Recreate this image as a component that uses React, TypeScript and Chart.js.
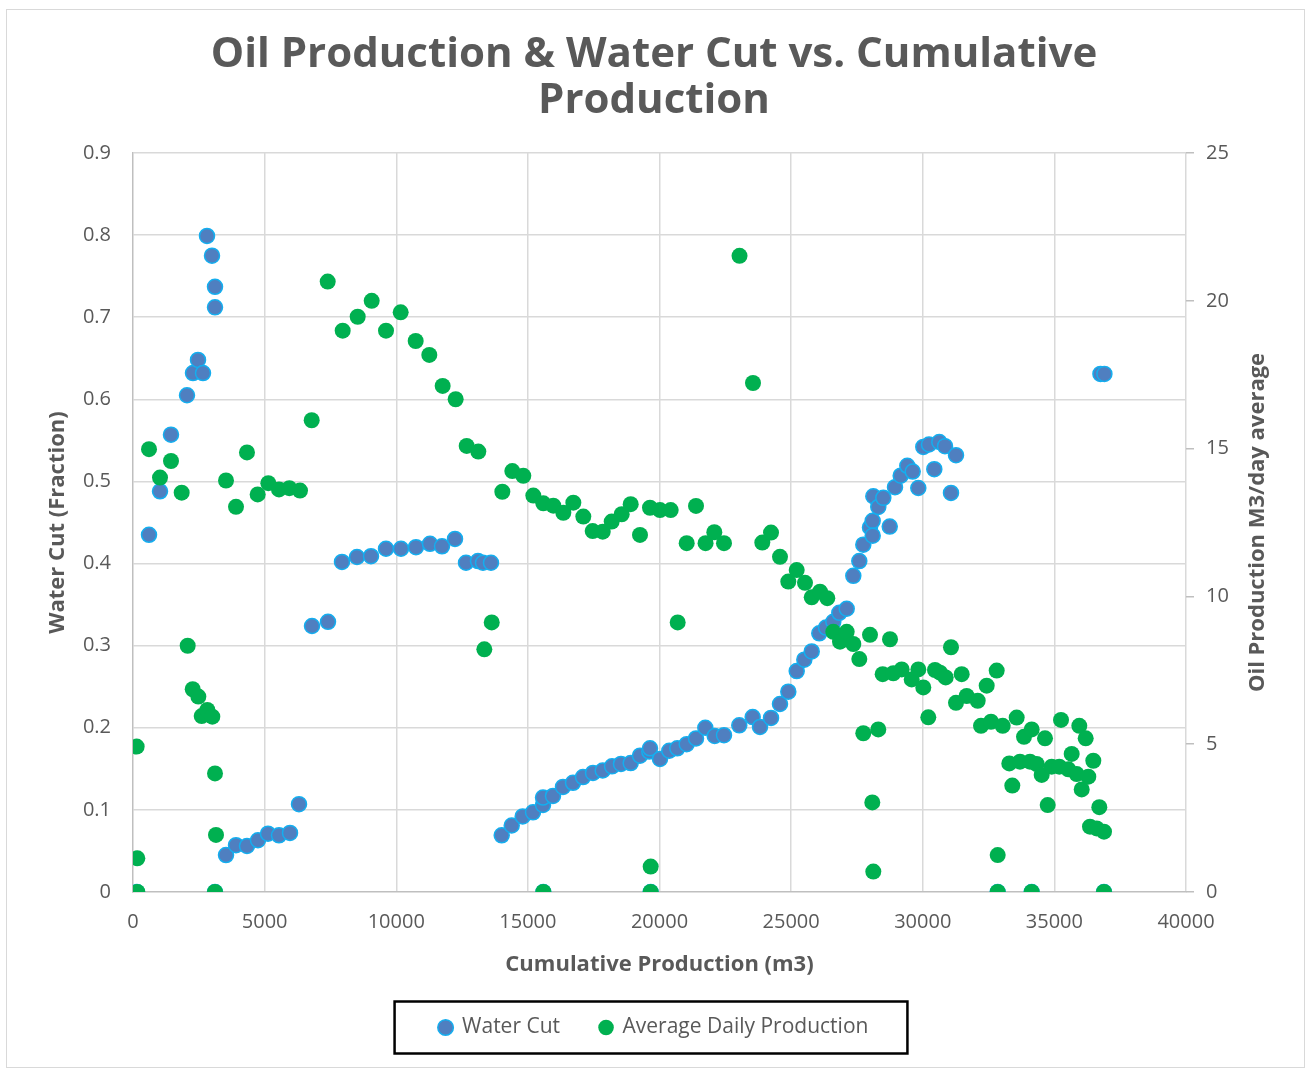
import React, { useEffect, useRef } from 'react';
import { Chart, registerables } from 'chart.js';

Chart.register(...registerables);

const FONT = '"Open Sans", "Liberation Sans", sans-serif';
const TEXT = '#595959';
const BLUE_FILL = '#4F7FC0';
const BLUE_EDGE = '#14AEEF';
const GREEN = '#00B050';

const titleLines = ['Oil Production & Water Cut vs. Cumulative', 'Production'];
const xTitle = 'Cumulative Production (m3)';
const yLeftTitle = 'Water Cut (Fraction)';
const yRightTitle = 'Oil Production M3/day average';
const seriesNames = ['Water Cut', 'Average Daily Production'];

// Water cut series (left axis)
const wcCumulative = [
  150, 608, 1026, 1443, 2051, 2279, 2469, 2659, 2811, 3001, 3115, 3115, 3115,
  3533, 3913, 4330, 4748, 5128, 5546, 5964, 6306, 6800, 7407, 7939, 8509, 9041,
  9611, 10180, 10750, 11282, 11738, 12232, 12650, 13105, 13295, 13599, 14006,
  14386, 14803, 15195, 15575, 15575, 15587, 15954, 16334, 16714, 17094, 17474,
  17843, 18196, 18537, 18906, 19259, 19612, 19639, 19665, 20019, 20372, 20676,
  21033, 21387, 21740, 22097, 22450, 23031, 23540, 23818, 24236, 24577, 24893,
  25212, 25501, 25782, 26070, 26325, 26602, 26830, 27111, 27362, 27590, 27742,
  27996, 28098, 28098, 28122, 28311, 28502, 28746, 28946, 29162, 29413, 29618,
  29831, 30021, 30237, 30439, 30628, 30845, 31073, 31263, 32847, 34138, 36750,
  36900, 36885,
];
const wcFraction = [
  0, 0.435, 0.488, 0.557, 0.605, 0.632, 0.648, 0.632, 0.799, 0.775, 0.737, 0.712, 0,
  0.045, 0.057, 0.056, 0.063, 0.071, 0.069, 0.072, 0.107, 0.324, 0.329, 0.402, 0.408, 0.409,
  0.418, 0.418, 0.42, 0.424, 0.421, 0.43, 0.401, 0.403, 0.401, 0.401, 0.069,
  0.081, 0.092, 0.097, 0.106, 0.115, 0, 0.117, 0.128, 0.133, 0.14, 0.145,
  0.148, 0.153, 0.156, 0.157, 0.166, 0.171, 0.175, 0, 0.162, 0.172, 0.175,
  0.18, 0.187, 0.2, 0.19, 0.191, 0.203, 0.213, 0.201, 0.212, 0.229, 0.244,
  0.269, 0.283, 0.293, 0.315, 0.322, 0.329, 0.34, 0.345, 0.385, 0.403, 0.423,
  0.444, 0.452, 0.434, 0.482, 0.469, 0.48, 0.445, 0.493, 0.507, 0.519, 0.512,
  0.492, 0.542, 0.545, 0.515, 0.548, 0.543, 0.486, 0.532, 0, 0, 0.631,
  0.631, 0,
];

// Average daily oil production series (right axis)
const oilCumulative = [
  139, 165, 165, 608, 1026, 1443, 1849, 2077, 2268, 2482, 2609, 2824, 3013, 3115,
  3153, 3115, 3533, 3913, 4330, 4736, 5141, 5546, 5939, 6344, 6788, 7396, 7965,
  8535, 9067, 9611, 10168, 10738, 11256, 11763, 12257, 12675, 13117, 13346, 13627,
  14030, 14409, 14827, 15207, 15587, 15587, 15967, 16347, 16727, 17106, 17462,
  17843, 18184, 18564, 18906, 19259, 19639, 19665, 19665, 20019, 20425, 20691,
  21033, 21387, 21750, 22082, 22450, 23040, 23552, 23905, 24236, 24577, 24893,
  25212, 25527, 25782, 26097, 26374, 26602, 26857, 27111, 27362, 27590, 27742,
  27996, 28084, 28122, 28311, 28478, 28756, 28881, 29200, 29580, 29832, 30021,
  30211, 30466, 30656, 30871, 31073, 31263, 31479, 31669, 32087, 32213, 32429,
  32593, 32809, 32847, 32847, 33036, 33288, 33402, 33568, 33694, 33846, 34074,
  34138, 34138, 34328, 34518, 34644, 34746, 34898, 35187, 35252, 35529, 35657,
  35848, 35947, 36038, 36190, 36289, 36353, 36479, 36608, 36707, 36885, 36885,
];
const oilRate = [
  4.92, 1.14, 0, 14.98, 14.02, 14.58, 13.51, 8.33, 6.86, 6.61, 5.95, 6.16, 5.93, 4.01,
  1.93, 0, 13.92, 13.03, 14.87, 13.45, 13.83, 13.62, 13.66, 13.58, 15.96, 20.65, 18.99,
  19.46, 20.0, 18.99, 19.61, 18.64, 18.17, 17.12, 16.67, 15.09, 14.9, 8.21, 9.12,
  13.54, 14.24, 14.08, 13.41, 13.15, 0, 13.07, 12.83, 13.17, 12.7, 12.21,
  12.19, 12.53, 12.78, 13.12, 12.08, 13.0, 0.86, 0, 12.92, 12.92, 9.12,
  11.8, 13.06, 11.8, 12.17, 11.8, 21.52, 17.22, 11.82, 12.16, 11.34, 10.5,
  10.89, 10.46, 9.97, 10.16, 9.94, 8.8, 8.47, 8.8, 8.39, 7.88, 5.37,
  8.7, 3.03, 0.69, 5.5, 7.37, 8.55, 7.4, 7.53, 7.19, 7.53, 6.92,
  5.91, 7.51, 7.42, 7.26, 8.28, 6.4, 7.37, 6.63, 6.47, 5.62, 6.98,
  5.76, 7.49, 1.25, 0, 5.62, 4.35, 3.6, 5.9, 4.41, 5.25, 4.41,
  5.5, 0, 4.33, 3.96, 5.2, 2.94, 4.24, 4.24, 5.82, 4.15, 4.67,
  3.99, 5.62, 3.47, 5.2, 3.9, 2.21, 4.44, 2.15, 2.87, 2.04, 0,
];

const xRange = { min: 0, max: 40000, step: 5000 };
const yLeftRange = { min: 0, max: 0.9, step: 0.1 };
const yRightRange = { min: 0, max: 25, step: 5 };

const chromePlugin = {
  id: 'chrome',
  beforeDraw(chart: any) {
    const ctx = chart.ctx;
    ctx.save();
    ctx.fillStyle = '#ffffff';
    ctx.fillRect(0, 0, chart.width, chart.height);
    ctx.strokeStyle = '#D9D9D9';
    ctx.lineWidth = 1;
    ctx.strokeRect(6.5, 9.5, 1298, 1058);
    ctx.restore();
  },
  afterDraw(chart: any) {
    const ctx = chart.ctx;
    const area = chart.chartArea;
    ctx.save();
    // right axis title (reads bottom to top)
    ctx.fillStyle = TEXT;
    ctx.font = `bold 22px ${FONT}`;
    ctx.textAlign = 'center';
    ctx.textBaseline = 'middle';
    ctx.translate(1258, (area.top + area.bottom) / 2);
    ctx.rotate(-Math.PI / 2);
    ctx.fillText(yRightTitle, 0, 0);
    ctx.restore();

    // legend frame
    const legend = chart.legend;
    const boxes = legend && legend.legendHitBoxes;
    if (boxes && boxes.length) {
      const first = boxes[0];
      const last = boxes[boxes.length - 1];
      const cy = first.top + first.height / 2;
      const left = first.left - 45;
      const right = last.left + last.width + 39;
      ctx.save();
      ctx.strokeStyle = '#000000';
      ctx.lineWidth = 2.5;
      ctx.strokeRect(left, cy - 26, right - left, 52);
      ctx.restore();
    }
  },
};

export default function App() {
  const ref = useRef<HTMLCanvasElement | null>(null);

  useEffect(() => {
    if (!ref.current) return;
    const wcPoints = wcCumulative.map((x, i) => ({ x, y: wcFraction[i] }));
    const oilPoints = oilCumulative.map((x, i) => ({ x, y: oilRate[i] }));

    const gridColor = (c: any) => (c.tick && c.tick.value === 0 ? 'rgba(0,0,0,0)' : '#D9D9D9');

    const chart = new Chart(ref.current, {
      type: 'scatter',
      data: {
        datasets: [
          {
            label: seriesNames[0],
            data: wcPoints,
            yAxisID: 'y',
            backgroundColor: BLUE_FILL,
            borderColor: BLUE_EDGE,
            borderWidth: 1.5,
            pointRadius: 7.5,
            pointHoverRadius: 7.5,
            order: 1,
          },
          {
            label: seriesNames[1],
            data: oilPoints,
            yAxisID: 'y1',
            backgroundColor: GREEN,
            borderColor: GREEN,
            borderWidth: 0,
            pointRadius: 8,
            pointHoverRadius: 8,
            order: 0,
          },
        ],
      },
      options: {
        responsive: false,
        animation: false,
        layout: { padding: { top: 0, left: 0, right: 0, bottom: 20 } },
        plugins: {
          tooltip: { enabled: false },
          title: {
            display: true,
            text: titleLines,
            color: TEXT,
            font: { family: FONT, size: 42, weight: 'bold', lineHeight: 46 / 42 },
            padding: { top: 32, bottom: 29 },
          },
          legend: {
            display: true,
            position: 'bottom',
            labels: {
              color: TEXT,
              font: { family: FONT, size: 21 },
              usePointStyle: true,
              pointStyle: 'circle',
              boxWidth: 12,
              boxHeight: 11,
              padding: 40,
              sort: (a: any, b: any) => a.datasetIndex - b.datasetIndex,
            },
          },
        },
        scales: {
          x: {
            type: 'linear',
            min: xRange.min,
            max: xRange.max,
            afterFit: (s: any) => { s.height = 85; },
            ticks: {
              stepSize: xRange.step,
              color: TEXT,
              font: { family: FONT, size: 20 },
              padding: 18,
              maxRotation: 0,
              callback: (v: any) => String(v),
            },
            grid: { color: gridColor, lineWidth: 1.5, drawTicks: false },
            border: { display: true, color: '#BFBFBF', width: 1.5 },
            title: {
              display: true,
              text: xTitle,
              color: TEXT,
              font: { family: FONT, size: 22, weight: 'bold', lineHeight: 1.1 },
              padding: { top: 0, bottom: 0 },
            },
          },
          y: {
            type: 'linear',
            position: 'left',
            min: yLeftRange.min,
            max: yLeftRange.max,
            afterFit: (s: any) => { s.width = 133; },
            ticks: {
              stepSize: yLeftRange.step,
              color: TEXT,
              font: { family: FONT, size: 20 },
              padding: 22,
              callback: (v: any) => (v === 0 ? '0' : Number(v).toFixed(1)),
            },
            grid: { color: gridColor, lineWidth: 1.5, drawTicks: false },
            border: { display: true, color: '#BFBFBF', width: 1.5 },
            title: {
              display: true,
              text: yLeftTitle,
              color: TEXT,
              font: { family: FONT, size: 22, weight: 'bold', lineHeight: 1.2 },
              padding: { top: 45, bottom: 0 },
            },
          },
          y1: {
            type: 'linear',
            position: 'right',
            min: yRightRange.min,
            max: yRightRange.max,
            afterFit: (s: any) => { s.width = 122; },
            ticks: {
              stepSize: yRightRange.step,
              color: TEXT,
              font: { family: FONT, size: 20 },
              padding: 12,
              callback: (v: any) => String(v),
            },
            grid: { drawOnChartArea: false, drawTicks: true, tickLength: 8, color: '#BFBFBF', lineWidth: 1.5 },
            border: { display: false },
            title: { display: false },
          },
        },
      },
      plugins: [chromePlugin],
    } as any);

    return () => chart.destroy();
  }, []);

  return (
    <div style={{ position: 'absolute', left: 0, top: 0, width: 1308, height: 1068 }}>
      <canvas ref={ref} width={1308} height={1068} style={{ display: 'block', width: 1308, height: 1068 }} />
    </div>
  );
}
